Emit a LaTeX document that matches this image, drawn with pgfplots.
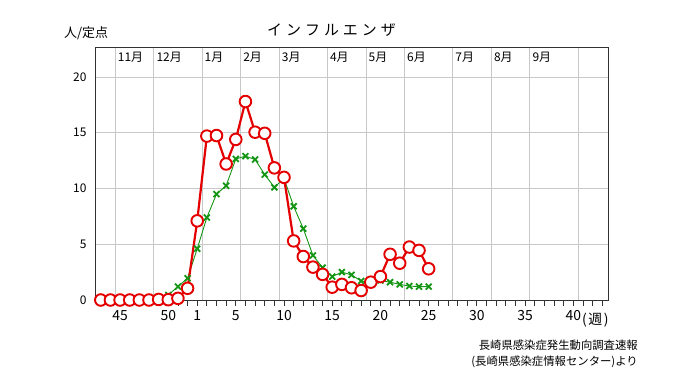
\documentclass[border=0pt]{standalone}
\usepackage{fontspec}
\setmainfont{Noto Sans CJK JP}
\usepackage{pgfplots}
\pgfplotsset{compat=1.18}
\usepackage{pgfplotstable}
\definecolor{cred}{RGB}{228,0,0}
\definecolor{cgreen}{RGB}{20,150,20}
\definecolor{cgrid}{RGB}{200,200,200}
\definecolor{cframe}{RGB}{50,50,50}

% index: week w of previous year -> w-52 ; week w of this year -> w
\pgfplotstableread{
w v
-9 0
-8 0
-7 0
-6 0
-5 0
-4 0
-3 0.05
-2 0.03
-1 0.15
0 1.05
1 7.1
2 14.7
3 14.75
4 12.2
5 14.4
6 17.8
7 15.05
8 14.95
9 11.85
10 11.0
11 5.3
12 3.9
13 2.95
14 2.3
15 1.15
16 1.4
17 1.1
18 0.85
19 1.6
20 2.1
21 4.1
22 3.3
23 4.75
24 4.45
25 2.8
}\cur

\pgfplotstableread{
w v
-9 0
-8 0
-7 0
-6 0
-5 0
-4 0
-3 0.1
-2 0.45
-1 1.2
0 1.95
1 4.6
2 7.4
3 9.5
4 10.25
5 12.65
6 12.9
7 12.6
8 11.25
9 10.1
10 10.9
11 8.4
12 6.4
13 4.0
14 2.9
15 2.1
16 2.5
17 2.25
18 1.7
19 1.6
20 1.75
21 1.6
22 1.4
23 1.25
24 1.2
25 1.2
}\prev

\begin{document}
\begin{tikzpicture}[x=1bp,y=1bp]
\path[use as bounding box] (0,0) rectangle (680,382);
\begin{axis}[
  at={(95bp,82bp)}, anchor=south west,
  width=513bp, height=252bp, scale only axis,
  xmin=-9.6, xmax=43.6, ymin=0, ymax=22.6,
  axis line style={draw=cframe, line width=1bp},
  xtick={-7.5,-3.5,1.5,5.5,9.5,14.5,18.5,22.5,27.5,31.5,35.5,40.5},
  xticklabels={},
  minor xtick={-9,...,43},
  ytick={0,5,10,15,20},
  xmajorgrids, ymajorgrids,
  major grid style={draw=cgrid, line width=0.9bp},
  major tick length=0pt,
  minor tick length=6bp,
  tick align=outside,
  xtick pos=bottom, ytick pos=left,
  minor tick style={draw=cframe, line width=0.8bp},
  extra x ticks={-7,-2,1,5,10,15,20,25,30,35,40},
  extra x tick labels={45,50,1,5,10,15,20,25,30,35,40},
  extra x tick style={grid=none, major tick length=0pt},
  xticklabel style={font=\fontsize{14}{14}\selectfont, yshift=-7bp},
  yticklabel style={font=\fontsize{12}{12}\selectfont, xshift=-5bp},
  /pgf/number format/assume math mode=true,
  clip=false,
]
\addplot[cgreen, line width=0.9bp, mark=x, mark size=4.2bp,
  mark options={line width=1.8bp, solid}] table[x=w, y=v] {\prev};
\addplot[cred, line width=2.2bp, mark=*, mark size=5.8bp,
  mark options={fill=white, draw=cred, line width=1.9bp}] table[x=w, y=v] {\cur};

\foreach \g/\m in {-7.5/11月,-3.5/12月,1.5/1月,5.5/2月,9.5/3月,14.5/4月,18.5/5月,22.5/6月,27.5/7月,31.5/8月,35.5/9月}{
  \edef\tmp{\noexpand\node[anchor=west, inner sep=1bp, xshift=1.5bp, yshift=-9bp, font=\noexpand\fontsize{12}{12}\noexpand\selectfont] at (axis cs:\g,22.6) {\m};}
  \tmp
}
\node[anchor=west, inner sep=0pt, font=\fontsize{14}{14}\selectfont, yshift=-20bp] at (axis cs:40.9,0) {(\hspace{1.5bp}週\hspace{1.5bp})};
\end{axis}
\node[font=\fontsize{15}{15}\selectfont] at (331.5,352) {イ\hspace{4bp}ン\hspace{4bp}フ\hspace{4bp}ル\hspace{4bp}エ\hspace{4bp}ン\hspace{4bp}ザ};
\node[anchor=west, inner sep=0pt, font=\fontsize{13}{13}\selectfont] at (64,349) {人/定点};
\node[anchor=east, inner sep=0pt, font=\fontsize{11.4}{12}\selectfont] at (638,37) {長崎県感染症発生動向調査速報};
\node[anchor=east, inner sep=0pt, font=\fontsize{11.4}{12}\selectfont] at (638,20) {(長崎県感染症情報センター)より};
\end{tikzpicture}
\end{document}
